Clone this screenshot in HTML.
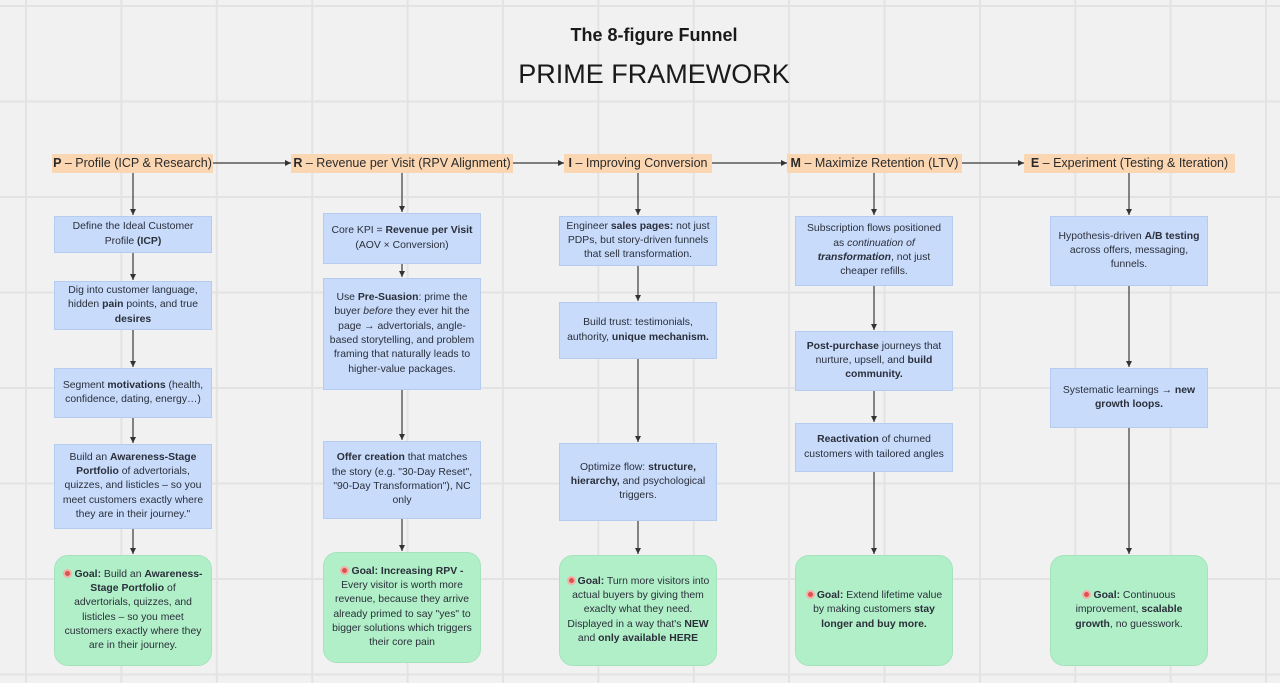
<!DOCTYPE html>
<html><head><meta charset="utf-8"><style>
*{margin:0;padding:0;box-sizing:border-box}
body{width:1280px;height:683px;overflow:hidden;background:#f1f1f1;font-family:"Liberation Sans","DejaVu Sans",sans-serif;color:#2a2f3a;position:relative}
.grid{position:absolute;inset:0;background-image:linear-gradient(to right,#e3e3e3 2px,transparent 2px),linear-gradient(to bottom,#e3e3e3 2px,transparent 2px);background-size:95.4px 95.5px;background-position:25px 5px}
.t1{position:absolute;left:0;width:1308px;top:25px;text-align:center;font-weight:bold;font-size:18px;color:#1a1a1a}
.t2{position:absolute;left:0;width:1308px;top:59px;text-align:center;font-size:27px;color:#1a1a1a}
.h{position:absolute;top:154px;height:19px;background:#fbd6b2;font-size:12.5px;line-height:19px;white-space:nowrap;padding:0;color:#2a2a2a;text-align:center}
.b{position:absolute;background:#c8dbfb;border:1px solid #b5cbef;display:flex;align-items:center;justify-content:center;text-align:center;font-size:10.4px;line-height:14.3px;padding:2px 5px}
.g{position:absolute;background:#b1efc8;border:1px solid #a5e3bc;border-radius:14px;display:flex;align-items:center;justify-content:center;text-align:center;font-size:10.4px;line-height:14.3px;padding:4px 6px}
.b>div,.g>div{width:100%}
.tg{display:inline-block;width:9px;height:9px;border-radius:50%;background:#d9534f;border:2px solid #f3b0a8;vertical-align:-1px;margin-right:2px}
svg{position:absolute;left:0;top:0}
</style></head><body>
<div class="grid"></div>
<div class="t1">The 8-figure Funnel</div>
<div class="t2">PRIME FRAMEWORK</div>
<svg width="1280" height="683">
<defs><marker id="a" markerWidth="6" markerHeight="6" refX="5" refY="3" orient="auto"><path d="M0,0.5 L5,3 L0,5.5z" fill="#333"/></marker></defs>
<g stroke="#3a3a3a" stroke-width="1.2" fill="none" marker-end="url(#a)">
<line x1="213" y1="163" x2="291" y2="163"/>
<line x1="513" y1="163" x2="564" y2="163"/>
<line x1="712" y1="163" x2="787" y2="163"/>
<line x1="962" y1="163" x2="1024" y2="163"/>
<line x1="133" y1="173" x2="133" y2="215"/>
<line x1="133" y1="253" x2="133" y2="280"/>
<line x1="133" y1="330" x2="133" y2="367"/>
<line x1="133" y1="418" x2="133" y2="443"/>
<line x1="133" y1="529" x2="133" y2="554"/>
<line x1="402" y1="173" x2="402" y2="212"/>
<line x1="402" y1="264" x2="402" y2="277"/>
<line x1="402" y1="390" x2="402" y2="440"/>
<line x1="402" y1="519" x2="402" y2="551"/>
<line x1="638" y1="173" x2="638" y2="215"/>
<line x1="638" y1="266" x2="638" y2="301"/>
<line x1="638" y1="359" x2="638" y2="442"/>
<line x1="638" y1="521" x2="638" y2="554"/>
<line x1="874" y1="173" x2="874" y2="215"/>
<line x1="874" y1="286" x2="874" y2="330"/>
<line x1="874" y1="391" x2="874" y2="422"/>
<line x1="874" y1="472" x2="874" y2="554"/>
<line x1="1129" y1="173" x2="1129" y2="215"/>
<line x1="1129" y1="286" x2="1129" y2="367"/>
<line x1="1129" y1="428" x2="1129" y2="554"/>
</g></svg>
<div class="h" style="left:52px;width:161px"><b>P</b> – Profile (ICP &amp; Research)</div>
<div class="h" style="left:291px;width:222px"><b>R</b> – Revenue per Visit (RPV Alignment)</div>
<div class="h" style="left:564px;width:148px"><b>I</b> – Improving Conversion</div>
<div class="h" style="left:787px;width:175px"><b>M</b> – Maximize Retention (LTV)</div>
<div class="h" style="left:1024px;width:211px"><b>E</b> – Experiment (Testing &amp; Iteration)</div>

<div class="b" style="left:54px;top:216px;width:158px;height:37px"><div>Define the Ideal Customer Profile <b>(ICP)</b></div></div>
<div class="b" style="left:54px;top:281px;width:158px;height:49px"><div>Dig into customer language, hidden <b>pain</b> points, and true <b>desires</b></div></div>
<div class="b" style="left:54px;top:368px;width:158px;height:50px"><div>Segment <b>motivations</b> (health, confidence, dating, energy…)</div></div>
<div class="b" style="left:54px;top:444px;width:158px;height:85px"><div>Build an <b>Awareness-Stage Portfolio</b> of advertorials, quizzes, and listicles – so you meet customers exactly where they are in their journey."</div></div>
<div class="g" style="left:54px;top:555px;width:158px;height:111px"><div><span class="tg"></span><b>Goal:</b> Build an <b>Awareness-Stage Portfolio</b> of advertorials, quizzes, and listicles – so you meet customers exactly where they are in their journey.</div></div>

<div class="b" style="left:323px;top:213px;width:158px;height:51px"><div>Core KPI = <b>Revenue per Visit</b> (AOV × Conversion)</div></div>
<div class="b" style="left:323px;top:278px;width:158px;height:112px"><div>Use <b>Pre-Suasion</b>: prime the buyer <i>before</i> they ever hit the page → advertorials, angle-based storytelling, and problem framing that naturally leads to higher-value packages.</div></div>
<div class="b" style="left:323px;top:441px;width:158px;height:78px"><div><b>Offer creation</b> that matches the story (e.g. "30-Day Reset", "90-Day Transformation"), NC only</div></div>
<div class="g" style="left:323px;top:552px;width:158px;height:111px"><div><span class="tg"></span><b>Goal: Increasing RPV -</b> Every visitor is worth more revenue, because they arrive already primed to say "yes" to bigger solutions which triggers their core pain</div></div>

<div class="b" style="left:559px;top:216px;width:158px;height:50px"><div>Engineer <b>sales pages:</b> not just PDPs, but story-driven funnels that sell transformation.</div></div>
<div class="b" style="left:559px;top:302px;width:158px;height:57px"><div>Build trust: testimonials, authority, <b>unique mechanism.</b></div></div>
<div class="b" style="left:559px;top:443px;width:158px;height:78px"><div>Optimize flow: <b>structure, hierarchy,</b> and psychological triggers.</div></div>
<div class="g" style="left:559px;top:555px;width:158px;height:111px"><div><span class="tg"></span><b>Goal:</b> Turn more visitors into actual buyers by giving them exaclty what they need. Displayed in a way that's <b>NEW</b> and <b>only available HERE</b></div></div>

<div class="b" style="left:795px;top:216px;width:158px;height:70px"><div>Subscription flows positioned as <i>continuation of <b>transformation</b></i>, not just cheaper refills.</div></div>
<div class="b" style="left:795px;top:331px;width:158px;height:60px"><div><b>Post-purchase</b> journeys that nurture, upsell, and <b>build community.</b></div></div>
<div class="b" style="left:795px;top:423px;width:158px;height:49px"><div><b>Reactivation</b> of churned customers with tailored angles</div></div>
<div class="g" style="left:795px;top:555px;width:158px;height:111px"><div><span class="tg"></span><b>Goal:</b> Extend lifetime value by making customers <b>stay longer and buy more.</b></div></div>

<div class="b" style="left:1050px;top:216px;width:158px;height:70px"><div>Hypothesis-driven <b>A/B testing</b> across offers, messaging, funnels.</div></div>
<div class="b" style="left:1050px;top:368px;width:158px;height:60px"><div>Systematic learnings → <b>new growth loops.</b></div></div>
<div class="g" style="left:1050px;top:555px;width:158px;height:111px"><div><span class="tg"></span><b>Goal:</b> Continuous improvement, <b>scalable growth</b>, no guesswork.</div></div>
</body></html>
